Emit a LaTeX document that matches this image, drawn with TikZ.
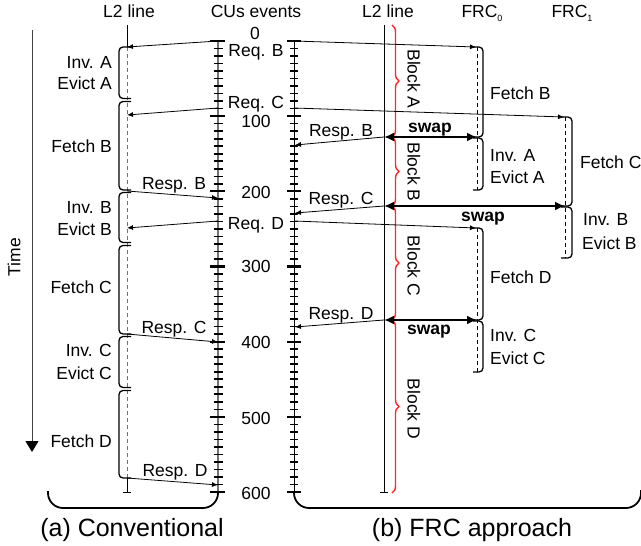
\documentclass[tikz,border=0pt]{standalone}
\usepackage{fontspec}
\setmainfont{Liberation Sans}
\usetikzlibrary{arrows.meta,decorations.pathreplacing}
\definecolor{bred}{RGB}{255,40,40}
\begin{document}
\begin{tikzpicture}[x=1pt,y=-1pt,
  lbl/.style={font=\fontsize{17.5}{19}\selectfont,inner sep=0pt,text height=12.6pt,text depth=0pt},
  captxt/.style={font=\fontsize{25}{28}\selectfont,inner sep=0pt,text height=18pt,text depth=0pt},
  arr/.style={line width=0.8pt,-{Latex[length=6pt,width=5pt]}},
  swaparr/.style={line width=2.4pt,{Latex[length=10pt,width=9pt]}-{Latex[length=10pt,width=9pt]}},
  brk/.style={line width=1.3pt,rounded corners=4pt},
  bigbrk/.style={line width=1.8pt,rounded corners=15pt},
  frcline/.style={line width=0.8pt,dash pattern=on 4pt off 3pt},
  redbrace/.style={bred,line width=1.4pt,decorate,decoration={brace,amplitude=7pt}},
  tickmin/.style={line width=1.6pt},
  tickmaj/.style={line width=2.3pt}]
\useasboundingbox (0,0) rectangle (641,546);

% headers
\node[lbl] (hL2a) at (129,11.5) {L2 line};
\node[lbl] (hCU) at (256,11.5) {CUs events};
\node[lbl] (hL2b) at (388,11.5) {L2 line};
\node[lbl] (hF0) at (482,11.5) {FRC\raisebox{-0.35ex}{\fontsize{9}{9}\selectfont 0}};
\node[lbl] (hF1) at (572,11.5) {FRC\raisebox{-0.35ex}{\fontsize{9}{9}\selectfont 1}};

% time axis
\coordinate (t0) at (32,30);
\coordinate (t1) at (32,452);
\draw[line width=1pt,black!75,-{Triangle[length=11pt,width=13pt,color=black]}] (t0) -- (t1);
\node[lbl,rotate=90] (time) at (14,257) {Time};

% CU axes
\coordinate (axA0) at (218,41); \coordinate (axA1) at (218,492);
\coordinate (axB0) at (294,41); \coordinate (axB1) at (294,492);
\draw[black!55,line width=1.8pt] (axA0) -- (axA1);
\draw[black,line width=1pt] (axB0) -- (axB1);
\foreach \t in {0,10,...,600} {
  \pgfmathsetmacro\yy{41+0.7517*\t}
  \draw[tickmin] (213.5,\yy) -- (222.5,\yy);
  \draw[tickmin] (290,\yy) -- (298,\yy);
}
\foreach \t in {0,100,...,600} {
  \pgfmathsetmacro\yy{41+0.7517*\t}
  \draw[tickmaj] (210,\yy) -- (225,\yy);
  \draw[tickmaj] (287,\yy) -- (301,\yy);
}
\node[lbl] (n0) at (255,33) {0};
\node[lbl] (n100) at (256,121) {100};
\node[lbl] (n200) at (256,192) {200};
\node[lbl] (n300) at (256,266) {300};
\node[lbl] (n400) at (256,342) {400};
\node[lbl] (n500) at (256,418) {500};
\node[lbl] (n600) at (256,493) {600};
\node[lbl] (rqB) at (256,50) {Req. B};
\node[lbl] (rqC) at (256,102) {Req. C};
\node[lbl] (rqD) at (256,223) {Req. D};

% bottom brackets and captions
\draw[bigbrk] (48,491) -- (48,508) -- (218,508) -- (axA1);
\draw[bigbrk] (axB1) -- (294,508) -- (641,508) -- (641,490);
\node[captxt] (capA) at (132,527.5) {(a) Conventional};
\node[captxt] (capB) at (472,527.5) {(b) FRC approach};

% ---------- (a) conventional ----------
\coordinate (a0) at (127,25); \coordinate (a1) at (127,47);
\coordinate (a2) at (127,478); \coordinate (a3) at (127,492);
\draw[line width=0.8pt] (a0) -- (a1);
\draw[black!55,line width=1pt,dash pattern=on 4pt off 3pt] (a1) -- (a2);
\draw[line width=0.8pt] (a2) -- (a3);
\draw[line width=0.8pt] (123,492) -- (131,492);

\foreach \ta/\tb in {47/98.5,101.5/190,192.5/242.5,245.5/334,336.5/387.5,390.5/478}
  \draw[brk] (131,\ta) -- (119,\ta) -- (119,\tb) -- (131,\tb);

\node[lbl,anchor=east] (ia) at (112,62) {Inv. A};
\node[lbl,anchor=east] (ea) at (112,83) {Evict A};
\node[lbl,anchor=east] (fb) at (112,146) {Fetch B};
\node[lbl,anchor=east] (ib) at (112,207) {Inv. B};
\node[lbl,anchor=east] (eb) at (112,229) {Evict B};
\node[lbl,anchor=east] (fc) at (112,287) {Fetch C};
\node[lbl,anchor=east] (ic) at (112,350) {Inv. C};
\node[lbl,anchor=east] (ec) at (112,373) {Evict C};
\node[lbl,anchor=east] (fd) at (112,441) {Fetch D};

\coordinate (aqB0) at (218,41);  \coordinate (aqB1) at (127,47);
\coordinate (aqC0) at (218,108); \coordinate (aqC1) at (127,115);
\coordinate (aqD0) at (218,221); \coordinate (aqD1) at (127,228);
\draw[arr] (aqB0) -- (aqB1);
\draw[arr] (aqC0) -- (aqC1);
\draw[arr] (aqD0) -- (aqD1);
\coordinate (apB0) at (127,191); \coordinate (apB1) at (218,198);
\coordinate (apC0) at (127,334); \coordinate (apC1) at (218,342);
\coordinate (apD0) at (127,478); \coordinate (apD1) at (218,485);
\draw[arr] (apB0) -- (apB1);
\draw[arr] (apC0) -- (apC1);
\draw[arr] (apD0) -- (apD1);
\node[lbl] (rpBa) at (174,183) {Resp. B};
\node[lbl] (rpCa) at (174,327) {Resp. C};
\node[lbl] (rpDa) at (175,470) {Resp. D};

% ---------- (b) FRC approach ----------
\coordinate (b0) at (384,25); \coordinate (b1) at (384,492);
\draw[line width=0.8pt] (b0) -- (b1);
\draw[line width=0.8pt] (380,492) -- (388,492);

\draw[redbrace] (392,25) -- (392,137);
\draw[redbrace] (392,137) -- (392,206);
\draw[redbrace] (392,206) -- (392,320);
\draw[redbrace] (392,320) -- (392,493);
\node[lbl,rotate=-90] (blA) at (414,79) {Block A};
\node[lbl,rotate=-90] (blB) at (414,172) {Block B};
\node[lbl,rotate=-90] (blC) at (414,266) {Block C};
\node[lbl,rotate=-90] (blD) at (414,409) {Block D};

% FRC lines
\coordinate (f0a) at (477,47);  \coordinate (f0b) at (477,190);
\coordinate (f0c) at (477,228); \coordinate (f0d) at (477,372);
\coordinate (f1a) at (565,117); \coordinate (f1b) at (565,258);
\draw[frcline] (f0a) -- (f0b);
\draw[frcline] (f0c) -- (f0d);
\draw[frcline] (f1a) -- (f1b);
\foreach \ta/\tb in {47/137,138/190,228/320,321/372}
  \draw[brk] (473,\ta) -- (483,\ta) -- (483,\tb) -- (473,\tb);
\foreach \ta/\tb in {117/206,207/258}
  \draw[brk] (561,\ta) -- (572,\ta) -- (572,\tb) -- (561,\tb);

\node[lbl,anchor=west] (fbB) at (490,93) {Fetch B};
\node[lbl,anchor=west] (iaB) at (490,155) {Inv. A};
\node[lbl,anchor=west] (eaB) at (490,177) {Evict A};
\node[lbl,anchor=west] (fcB) at (580,162) {Fetch C};
\node[lbl,anchor=west] (ibB) at (583,219) {Inv. B};
\node[lbl,anchor=west] (ebB) at (582,243) {Evict B};
\node[lbl,anchor=west] (fdB) at (490,277) {Fetch D};
\node[lbl,anchor=west] (icB) at (490,335) {Inv. C};
\node[lbl,anchor=west] (ecB) at (490,358) {Evict C};

% requests
\coordinate (bqB0) at (294,41);  \coordinate (bqB1) at (476,47);
\coordinate (bqC0) at (294,108); \coordinate (bqC1) at (564,117);
\coordinate (bqD0) at (294,221); \coordinate (bqD1) at (476,228);
\draw[arr] (bqB0) -- (bqB1);
\draw[arr] (bqC0) -- (bqC1);
\draw[arr] (bqD0) -- (bqD1);

% swaps
\coordinate (s1a) at (384,137); \coordinate (s1b) at (477,137);
\coordinate (s2a) at (384,206); \coordinate (s2b) at (565,206);
\coordinate (s3a) at (384,320); \coordinate (s3b) at (477,320);
\draw[swaparr] (s1a) -- (s1b);
\draw[swaparr] (s2a) -- (s2b);
\draw[swaparr] (s3a) -- (s3b);
\node[lbl,font=\fontsize{17.5}{19}\selectfont\bfseries] (sw1) at (430,126) {swap};
\node[lbl,font=\fontsize{17.5}{19}\selectfont\bfseries] (sw2) at (483,215) {swap};
\node[lbl,font=\fontsize{17.5}{19}\selectfont\bfseries] (sw3) at (429,328) {swap};

% responses
\coordinate (bpB1) at (295,145);
\coordinate (bpC1) at (295,213);
\coordinate (bpD1) at (295,327);
\draw[arr] (s1a) -- (bpB1);
\draw[arr] (s2a) -- (bpC1);
\draw[arr] (s3a) -- (bpD1);
\node[lbl] (rpBb) at (341,130) {Resp. B};
\node[lbl] (rpCb) at (341,198) {Resp. C};
\node[lbl] (rpDb) at (341,313) {Resp. D};
\end{tikzpicture}
\end{document}
